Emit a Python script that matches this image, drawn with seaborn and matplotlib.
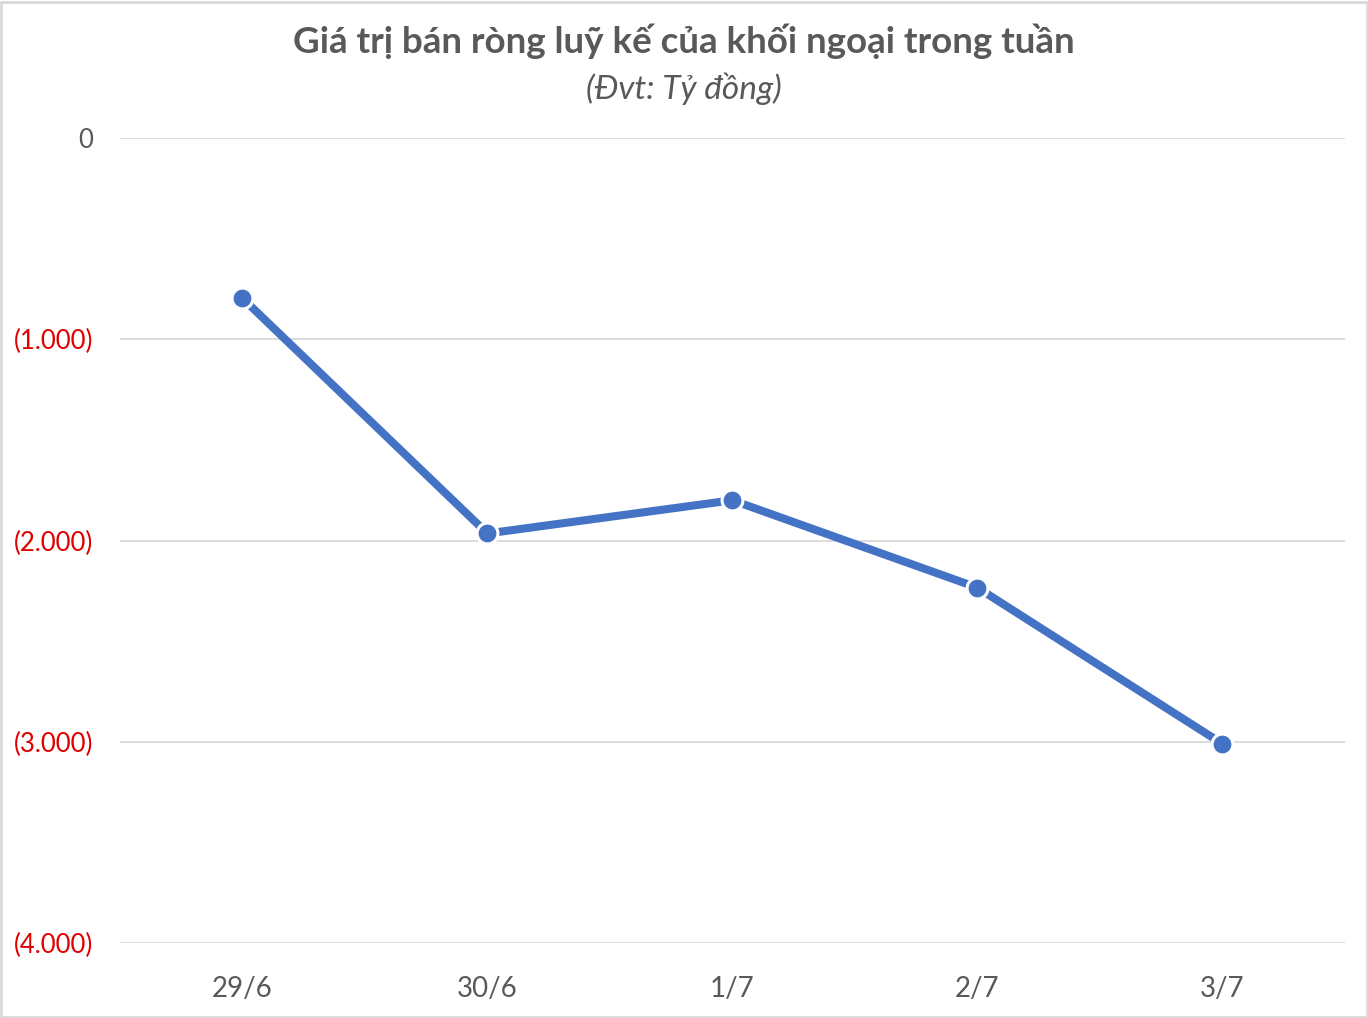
import matplotlib
matplotlib.use("Agg")
import matplotlib.pyplot as plt
import seaborn as sns
import pandas as pd
from matplotlib.patches import Rectangle

# data (ty dong)
dates = ["29/6", "30/6", "1/7", "2/7", "3/7"]
net_sell = [-796, -1965, -1800, -2234, -3010]
y_ticks = [0, -1000, -2000, -3000, -4000]
y_labels = ["0", "(1.000)", "(2.000)", "(3.000)", "(4.000)"]

sns.set_theme(style="white")
plt.rcParams["font.family"] = ["Lato", "DejaVu Sans"]

df = pd.DataFrame({"date": dates, "value": net_sell})

fig = plt.figure(figsize=(13.68, 10.18), dpi=100)
ax = fig.add_axes([0.0877, 0.0737, 0.8953, 0.7907])

sns.lineplot(data=df, x="date", y="value", ax=ax, color="#4472C4",
             linewidth=5.8, marker="o", markersize=15,
             markeredgecolor="white", markeredgewidth=2.2)

ax.set_xlim(-0.5, 4.5)
ax.set_ylim(-4000, 0)
ax.set_yticks(y_ticks)
ax.set_yticklabels(y_labels)
for lbl in ax.get_yticklabels():
    lbl.set_color("#595959" if lbl.get_text() == "0" else "#E00000")
ax.tick_params(axis="y", labelsize=18.5, length=0, pad=19)
ax.tick_params(axis="x", labelsize=20, length=0, pad=24, labelcolor="#595959")
ax.grid(axis="y", color="#D9D9D9", linewidth=1.3)
ax.set_axisbelow(True)
for s in ax.spines.values():
    s.set_visible(False)
ax.set_xlabel("")
ax.set_ylabel("")

fig.text(0.5, 0.959, "Giá trị bán ròng luỹ kế của khối ngoại trong tuần",
         ha="center", va="center", fontsize=26.5, fontweight="bold", color="#595959")
fig.text(0.5, 0.913, "(Đvt: Tỷ đồng)", ha="center", va="center",
         fontsize=24, style="italic", color="#595959")

fig.patches.append(Rectangle((0.001, 0.001), 0.998, 0.997, transform=fig.transFigure,
                             fill=False, edgecolor="#D9D9D9", linewidth=2))

fig.savefig("out.png", dpi=100)
